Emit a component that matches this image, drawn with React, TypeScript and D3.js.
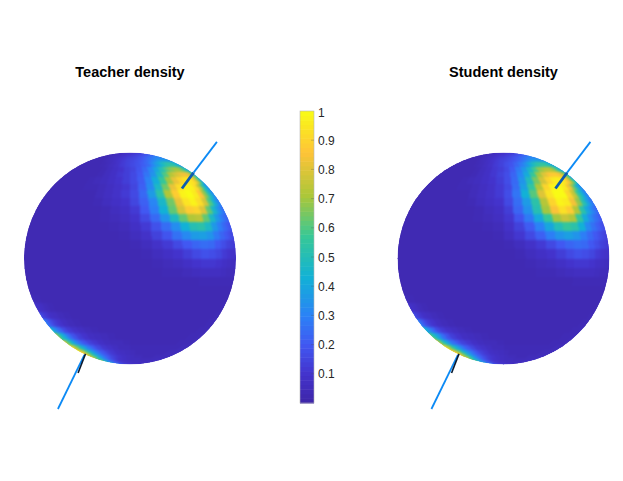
import React from 'react';
import * as d3 from 'd3';

const width = 623;
const height = 481;

// density, in percent. rows run north to south (5 deg), columns west to east (6 deg)
const teacherDensity: number[][] = [
  [9,9,9,9,9,9,9,9,9,9,9,9,9,9,9,10,10,10,10,10,10,10,10,10,10,10,10,10,10,10],
  [6,6,6,6,6,7,7,7,7,7,8,8,8,9,9,10,10,11,11,12,12,13,13,14,14,15,15,15,16,16],
  [4,4,4,4,4,4,5,5,5,6,6,7,8,9,10,11,12,13,14,15,16,17,18,19,20,21,22,23,24,24],
  [3,3,3,3,3,3,3,4,5,6,7,8,10,11,13,14,15,17,19,21,24,26,28,30,31,31,31,30,29,28],
  [3,3,3,3,3,3,3,3,4,5,6,8,10,12,14,15,17,19,22,25,29,33,37,38,38,37,36,34,32,30],
  [3,3,3,3,3,3,3,3,3,4,5,7,9,12,14,16,18,21,24,30,37,44,50,54,55,52,47,41,36,31],
  [3,3,3,3,3,3,3,3,3,3,4,6,8,10,13,15,19,24,31,40,50,60,66,70,70,66,58,48,40,33],
  [3,3,3,3,3,3,3,3,3,3,4,6,8,11,13,16,20,27,35,47,60,72,78,82,84,82,74,60,46,34],
  [3,3,3,3,3,3,3,3,3,4,5,6,8,10,13,16,21,30,42,56,70,82,90,94,95,90,76,58,44,34],
  [3,3,3,3,3,3,3,3,3,4,4,5,7,9,11,15,22,32,47,64,82,92,98,98,92,74,54,43,34,30],
  [3,3,3,3,3,3,3,3,3,3,3,5,7,9,12,16,24,37,53,72,88,98,100,96,86,68,52,40,33,29],
  [3,3,3,3,3,3,3,3,3,3,3,4,6,8,10,15,22,31,46,64,82,94,98,92,78,60,45,36,30,27],
  [3,3,3,3,3,3,3,3,3,3,3,3,4,6,8,12,20,29,43,62,78,88,90,80,62,46,36,30,26,24],
  [3,3,3,3,3,3,3,3,3,3,3,3,4,5,7,10,16,24,35,48,62,72,74,62,47,36,29,25,23,21],
  [3,3,3,3,3,3,3,3,3,3,3,3,3,4,5,8,12,18,25,33,43,51,53,47,36,29,24,21,19,18],
  [3,3,3,3,3,3,3,3,3,3,3,3,3,3,4,6,9,14,19,26,32,37,38,35,28,23,20,17,16,15],
  [3,3,3,3,3,3,3,3,3,3,3,3,3,3,3,4,6,9,12,16,20,23,25,24,20,17,14,13,12,12],
  [3,3,3,3,3,3,3,3,3,3,3,3,3,3,3,3,4,6,8,10,13,16,18,17,15,12,10,9,9,8],
  [3,3,3,3,3,3,3,3,3,3,3,3,3,3,3,3,3,4,5,6,8,10,11,11,10,8,7,6,6,6],
  [3,3,3,3,3,3,3,3,3,3,3,3,3,3,3,3,3,3,4,4,5,6,7,7,7,6,5,5,5,4],
  [3,3,3,3,3,3,3,3,3,3,3,3,3,3,3,3,3,3,3,3,3,3,4,4,4,4,4,4,4,4],
  [4,3,3,3,3,3,3,3,3,3,3,3,3,3,3,3,3,3,3,3,3,3,3,3,3,3,3,3,3,3],
  [6,5,4,4,3,3,3,3,3,3,3,3,3,3,3,3,3,3,3,3,3,3,3,3,3,3,3,3,3,4],
  [10,9,8,7,5,4,3,3,3,3,3,3,3,3,3,3,3,3,3,3,3,3,3,3,3,3,3,3,4,4],
  [18,16,13,11,8,7,5,4,3,3,3,3,3,3,3,3,3,3,3,3,3,3,3,3,3,3,3,4,4,4],
  [32,28,22,17,13,10,7,5,4,3,3,3,3,3,3,3,3,3,3,3,3,3,3,3,3,3,4,4,4,5],
  [50,44,36,29,23,16,12,9,7,5,4,3,3,3,3,3,3,3,3,3,3,3,3,3,3,4,4,4,5,5],
  [70,62,52,44,35,25,18,13,10,7,6,5,4,3,3,3,3,3,3,3,3,3,3,3,4,4,4,5,5,5],
  [86,76,64,54,44,33,25,19,14,11,8,6,5,5,4,3,3,3,3,3,3,3,3,4,4,4,4,5,5,6],
  [100,90,78,68,58,46,36,27,20,15,11,9,7,5,5,4,4,4,4,4,4,4,4,4,4,5,5,5,6,6],
  [98,92,86,78,66,54,42,33,25,19,14,11,8,7,6,5,4,4,4,4,4,4,4,5,5,5,5,6,6,6],
  [90,85,78,70,60,50,41,32,25,20,15,12,10,8,7,6,5,5,4,4,4,5,5,5,5,5,6,6,6,7],
  [75,70,64,56,48,40,32,26,20,16,13,10,9,8,7,6,6,6,5,5,5,5,5,6,6,6,6,7,7,7],
  [56,52,48,42,36,30,25,21,17,14,12,10,9,8,8,7,6,6,6,6,6,6,6,6,7,7,7,7,7,7],
  [34,32,30,28,26,24,22,20,18,16,14,13,12,11,10,10,9,9,8,8,8,7,7,7,7,7,7,7,7,7],
  [22,22,21,21,20,20,19,19,18,18,17,16,16,15,15,14,14,13,13,12,12,12,11,11,10,10,10,10,10,10],
];

// student rows that differ from the teacher, keyed by row number
const studentRows: Record<number, number[]> = {
  5: [3,3,3,3,3,3,3,3,3,4,5,7,9,12,14,17,19,23,28,34,42,49,54,56,56,53,47,41,36,31],
  6: [3,3,3,3,3,3,3,3,3,3,4,6,8,11,13,16,21,28,36,46,58,68,72,74,72,66,57,47,39,33],
  7: [3,3,3,3,3,3,3,3,3,3,4,6,8,11,14,17,23,31,41,56,70,80,86,88,87,82,72,57,44,34],
  8: [3,3,3,3,3,3,3,3,3,4,5,6,8,10,13,17,24,35,49,65,78,90,96,97,94,85,70,55,42,33],
  9: [3,3,3,3,3,3,3,3,3,4,4,5,7,9,12,16,25,38,55,72,90,98,100,96,84,66,48,39,32,28],
  10: [3,3,3,3,3,3,3,3,3,3,3,5,7,9,12,17,27,43,61,80,94,100,100,90,75,56,44,35,30,27],
  11: [3,3,3,3,3,3,3,3,3,3,3,4,6,8,10,16,25,37,53,73,90,98,96,84,68,52,40,32,27,24],
  12: [3,3,3,3,3,3,3,3,3,3,3,3,4,6,8,13,23,34,51,70,85,93,88,72,53,40,32,27,24,21],
  13: [3,3,3,3,3,3,3,3,3,3,3,3,4,5,7,11,19,28,41,56,70,76,72,56,41,32,26,23,20,19],
  14: [3,3,3,3,3,3,3,3,3,3,3,3,3,4,5,9,14,21,30,40,50,56,53,43,32,26,22,19,17,16],
  15: [3,3,3,3,3,3,3,3,3,3,3,3,3,3,4,7,11,16,22,29,35,38,35,29,24,20,17,15,14,13],
};
const studentDensity = teacherDensity.map((row, i) => studentRows[i] ?? row);

const colorbarTicks = [1, 0.9, 0.8, 0.7, 0.6, 0.5, 0.4, 0.3, 0.2, 0.1];

const parulaPositions = [0, 0.1, 0.2, 0.3, 0.43, 0.57, 0.71, 0.857, 1];
const parulaStops = ['#3e26a8', '#4333cc', '#4158f2', '#2b82f6', '#12b1d6', '#37c897', '#abc739', '#fec338', '#f9fb15'];

// axis line in sphere units, x to the right and y up from the centre
const axisOuter = [[0.82, 1.1], [0.6, 0.81]];
const axisInner = [[0.6, 0.81], [0.49, 0.66]];
const axisLower = [[-0.68, -1.42], [-0.43, -0.91]];
const axisShadow = [[-0.49, -1.08], [-0.42, -0.9]];

const color = d3
  .scaleLinear<string>()
  .domain(parulaPositions)
  .range(parulaStops)
  .interpolate(d3.interpolateRgb);

const latStep = 5;
const lonStep = 6;

const Sphere = ({ title, cx, density }: { title: string; cx: number; density: number[][] }) => {
  const cy = 258.5;
  const radius = 106;
  const projection = d3.geoOrthographic().scale(radius).translate([cx, cy]).rotate([0, 0]).clipAngle(90);
  const path = d3.geoPath(projection);
  const x = d3.scaleLinear().domain([-1, 1]).range([cx - radius, cx + radius]);
  const y = d3.scaleLinear().domain([-1, 1]).range([cy + radius, cy - radius]);
  const line = d3.line().x((d) => x(d[0])).y((d) => y(d[1]));
  const clipId = 'disc-' + Math.round(cx);

  return (
    <g>
      <text x={cx} y={76.5} textAnchor="middle" fontFamily="'Liberation Sans', Arial, sans-serif" fontWeight="bold" fontSize={14.5} fill="#000">
        {title}
      </text>
      <clipPath id={clipId}>
        <circle cx={cx} cy={cy} r={radius} />
      </clipPath>
      <g clipPath={`url(#${clipId})`}>
        <g filter="url(#soften)">
          {density.map((row, i) =>
            row.map((v, j) => {
              const north = 90 - i * latStep;
              const south = north - latStep;
              const west = -90 + j * lonStep;
              const east = west + lonStep;
              const d = path({
                type: 'Polygon',
                coordinates: [[[west, south], [west, north], [east, north], [east, south], [west, south]]],
              } as any);
              return <path key={i + '-' + j} d={d || ''} fill={color(v / 100)} shapeRendering="crispEdges" />;
            })
          )}
        </g>
      </g>
      <path d={line(axisOuter as any) || ''} stroke="#0c8af5" strokeWidth={1.8} fill="none" />
      <path d={line(axisInner as any) || ''} stroke="#0d5cb0" strokeWidth={2.8} fill="none" />
      <path d={line(axisLower as any) || ''} stroke="#0c8af5" strokeWidth={1.8} fill="none" />
      <path d={line(axisShadow as any) || ''} stroke="#0b1a30" strokeWidth={1.6} fill="none" />
    </g>
  );
};

const Colorbar = () => {
  const y = d3.scaleLinear().domain([0, 1]).range([403, 111]);
  const levels = d3.range(0, 64).map((i) => i / 64);
  const left = 300;
  const right = 314;
  return (
    <g>
      {levels.map((v) => (
        <rect key={v} x={left} width={right - left} y={y(v + 1 / 64)} height={y(v) - y(v + 1 / 64) + 0.5} fill={color(v + 1 / 128)} />
      ))}
      <rect x={left} y={111} width={right - left} height={292} fill="none" stroke="#b5b5b5" strokeWidth={0.6} />
      {colorbarTicks.map((t) => (
        <g key={t}>
          {t < 1 && <line x1={right - 3} x2={right} y1={y(t)} y2={y(t)} stroke="#555" strokeOpacity={0.5} strokeWidth={0.6} />}
          <text x={318} y={y(t) + (t === 1 ? 6 : 4.5)} fontFamily="'Liberation Sans', Arial, sans-serif" fontSize={12} fill="#262626">
            {t}
          </text>
        </g>
      ))}
    </g>
  );
};

export default function App() {
  return (
    <svg width={width} height={height} style={{ position: 'fixed', left: 0, top: 0, background: '#fff' }}>
      <defs>
        <filter id="soften" x="-5%" y="-5%" width="110%" height="110%" colorInterpolationFilters="sRGB">
          <feGaussianBlur in="SourceGraphic" stdDeviation={1.3} result="blur" />
          <feMerge>
            <feMergeNode in="SourceGraphic" />
            <feMergeNode in="blur" />
          </feMerge>
        </filter>
      </defs>
      <Sphere title="Teacher density" cx={130} density={teacherDensity} />
      <Sphere title="Student density" cx={503.5} density={studentDensity} />
      <Colorbar />
    </svg>
  );
}
